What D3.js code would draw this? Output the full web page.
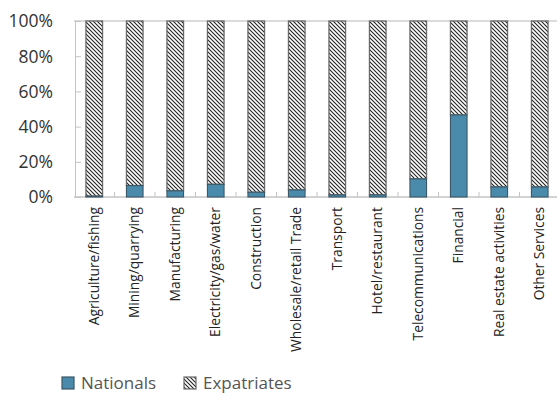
<!DOCTYPE html>
<html>
<head>
<meta charset="utf-8">
<script src="https://cdn.jsdelivr.net/npm/d3@7"></script>
<style>
  html, body { margin: 0; padding: 0; background: #fff; }
  svg { display: block; font-family: "Open Sans", "Noto Sans", sans-serif; }
</style>
</head>
<body>
<svg id="chart" width="557" height="394"></svg>
<script>
// Employment share by sector: nationals vs expatriates (percent)
const categories = [
  "Agriculture/fishing", "Mining/quarrying", "Manufacturing", "Electricity/gas/water",
  "Construction", "Wholesale/retail Trade", "Transport", "Hotel/restaurant",
  "Telecommunications", "Financial", "Real estate activities", "Other Services"
];
const nationals = [0.5, 6.5, 3.5, 7.2, 2.7, 4.0, 1.2, 1.2, 10.3, 46.6, 5.7, 5.7];
const expatriates = nationals.map(v => 100 - v);
const yTicks = [0, 20, 40, 60, 80, 100];
const seriesNames = ["Nationals", "Expatriates"];

const blue = "#4a8aab";
const svg = d3.select("#chart");

// diagonal hatch for expatriates
const defs = svg.append("defs");
const pat = defs.append("pattern")
  .attr("id", "hatch")
  .attr("patternUnits", "userSpaceOnUse")
  .attr("width", 4).attr("height", 4);
pat.append("rect").attr("width", 4).attr("height", 4).attr("fill", "#fff");
pat.append("path")
  .attr("d", "M-1,-1L5,5M3,-1L5,1M-1,3L1,5")
  .attr("stroke", "#222").attr("stroke-width", 1.1);

const x = d3.scaleBand()
  .domain(categories)
  .range([74, 560])
  .paddingInner(0.59)
  .paddingOuter(0.295);

const y = d3.scaleLinear().domain([0, 100]).range([197, 21]);

// top gridline
svg.append("line")
  .attr("x1", 74).attr("x2", 560)
  .attr("y1", y(100)).attr("y2", y(100))
  .attr("stroke", "#cfcfcf").attr("stroke-width", 1.5);

// y axis
const yAxis = svg.append("g")
  .attr("transform", "translate(75,0)")
  .call(d3.axisRight(y).tickValues(yTicks).tickSize(6).tickFormat(""));
yAxis.select(".domain").attr("stroke", "#c4c4c4");
yAxis.selectAll(".tick line").attr("stroke", "#c4c4c4");

svg.append("g").selectAll("text")
  .data(yTicks)
  .join("text")
  .attr("x", 53)
  .attr("y", d => y(d))
  .attr("dy", "0.36em")
  .attr("text-anchor", "end")
  .attr("font-size", 17.5)
  .attr("fill", "#333")
  .text(d => d + "%");

// x axis with inside ticks between categories
const bounds = categories.slice(1).map(c => x(c) - (x.step() - x.bandwidth()) / 2);
svg.append("g").selectAll("line")
  .data(bounds)
  .join("line")
  .attr("x1", d => d).attr("x2", d => d)
  .attr("y1", y(0)).attr("y2", y(0) - 5)
  .attr("stroke", "#c4c4c4");
svg.append("line")
  .attr("x1", 74).attr("x2", 560)
  .attr("y1", y(0)).attr("y2", y(0))
  .attr("stroke", "#c4c4c4").attr("stroke-width", 1.5);

// stacked bars
const bars = svg.append("g");
bars.selectAll("rect.exp")
  .data(categories)
  .join("rect")
  .attr("class", "exp")
  .attr("x", d => x(d))
  .attr("width", x.bandwidth())
  .attr("y", y(100))
  .attr("height", (d, i) => y(nationals[i]) - y(100))
  .attr("fill", "url(#hatch)")
  .attr("stroke", "#6a6a6a").attr("stroke-width", 1.3);
bars.selectAll("rect.nat")
  .data(categories)
  .join("rect")
  .attr("class", "nat")
  .attr("x", d => x(d))
  .attr("width", x.bandwidth())
  .attr("y", (d, i) => y(nationals[i]))
  .attr("height", (d, i) => y(0) - y(nationals[i]))
  .attr("fill", blue)
  .attr("stroke", "#3c5866").attr("stroke-width", 1.1);

// category labels, rotated
svg.append("g").selectAll("text")
  .data(categories)
  .join("text")
  .attr("transform", d => `translate(${x(d) + x.bandwidth() / 2 + 4.5},207) rotate(-90)`)
  .attr("text-anchor", "end")
  .attr("font-size", 13.8)
  .attr("fill", "#222")
  .text(d => d);

// legend
const legend = svg.append("g").attr("transform", "translate(62,377)");
const items = [
  { name: seriesNames[0], fill: blue, stroke: "#3c5866", x: 0 },
  { name: seriesNames[1], fill: "url(#hatch)", stroke: "#6a6a6a", x: 122 }
];
items.forEach(it => {
  legend.append("rect")
    .attr("x", it.x).attr("y", 0)
    .attr("width", 12).attr("height", 12)
    .attr("fill", it.fill).attr("stroke", it.stroke).attr("stroke-width", 1.2);
  legend.append("text")
    .attr("x", it.x + 19).attr("y", 6)
    .attr("dy", "0.36em")
    .attr("font-size", 17)
    .attr("fill", "#555")
    .text(it.name);
});
</script>
</body>
</html>
